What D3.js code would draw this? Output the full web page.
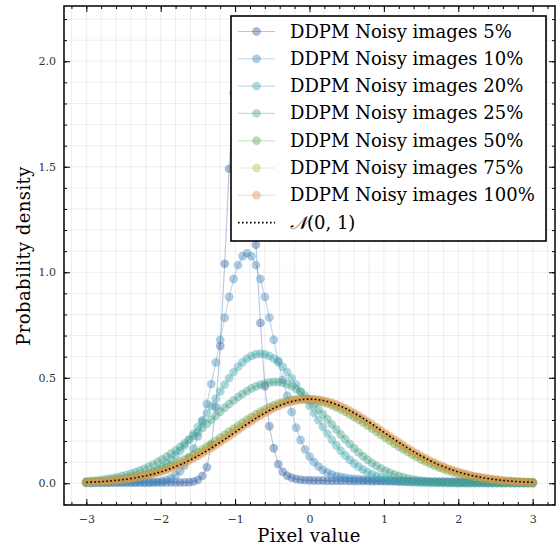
<!DOCTYPE html>
<html>
<head>
<meta charset="utf-8">
<script src="https://cdn.jsdelivr.net/npm/d3@7"></script>
<style>
body { margin: 0; background: #fff; }
svg { display: block; }
</style>
</head>
<body>
<script>
// pixel grid the densities were evaluated on (-3 .. 3, 101 points)
const pixelGrid = d3.range(101).map(i => -3 + i * 0.06);

const p5 = [
.004,.004,.004,.004,.004,.004,.004,.004,.004,.004,
.004,.004,.004,.004,.004,.004,.004,.004,.004,.004,
.004,.004,.004,.005,.008,.016,.035,.076,.180,.360,
.650,1.040,1.490,1.850,2.100,2.150,1.980,1.580,1.130,.760,
.460,.270,.166,.090,.055,.036,.026,.020,.017,.015,
.014,.013,.013,.013,.012,.012,.012,.012,.012,.011,
.011,.011,.011,.011,.010,.010,.010,.010,.010,.010,
.009,.009,.009,.009,.009,.008,.008,.008,.008,.008,
.007,.007,.007,.007,.006,.006,.006,.006,.006,.005,
.005,.005,.005,.005,.005,.005,.004,.004,.004,.004,
.004];
const p10 = [
.003,.003,.003,.003,.003,.003,.003,.003,.003,.003,
.003,.003,.003,.003,.0035,.0045,.0067,.0105,.016,.025,
.038,.057,.083,.1185,.1645,.2225,.293,.376,.470,.5725,
.679,.7845,.883,.968,1.034,1.076,1.090,1.076,1.034,.968,
.883,.785,.680,.580,.490,.415,.338,.263,.205,.160,
.127,.101,.080,.063,.051,.042,.035,.030,.026,.023,
.021,.019,.018,.017,.016,.015,.014,.013,.012,.011,
.010,.0095,.009,.0085,.008,.0075,.007,.0068,.0065,.0062,
.006,.0058,.0056,.0054,.0052,.005,.0049,.0048,.0047,.0046,
.0045,.0044,.0043,.0042,.0041,.004,.004,.004,.004,.004,
.004];
const p20 = [
.0009,.0013,.0018,.0025,.0033,.0045,.0059,.0078,.0102,.0133,
.0171,.0218,.0275,.0345,.0428,.0528,.0645,.0781,.0938,.1117,
.1319,.1544,.1792,.2063,.2354,.2664,.2989,.3324,.3667,.4010,
.4348,.4674,.4983,.5267,.5520,.5735,.5909,.6036,.6114,.6140,
.6114,.6036,.5909,.5735,.5520,.5267,.4983,.4674,.4348,.4010,
.3667,.3324,.2989,.2664,.2354,.2063,.1792,.1544,.1319,.1117,
.0938,.0781,.0645,.0528,.0428,.0345,.0275,.0218,.0171,.0133,
.0102,.0078,.0059,.0045,.0033,.0025,.0018,.0013,.0009,.0007,
.0006,.0005,.0005,.0004,.0004,.0004,.0003,.0003,.0003,.0003,
.0002,.0002,.0002,.0002,.0002,.0002,.0002,.0002,.0002,.0002,
.0002];
const p25 = [
.0087,.0105,.0125,.0150,.0178,.0211,.0249,.0292,.0341,.0396,
.0459,.0529,.0608,.0694,.0789,.0894,.1008,.1131,.1264,.1407,
.1558,.1718,.1886,.2062,.2244,.2430,.2621,.2814,.3009,.3202,
.3392,.3578,.3757,.3928,.4088,.4236,.4370,.4488,.4589,.4671,
.4734,.4776,.4797,.4796,.4763,.4697,.4600,.4474,.4321,.4145,
.3948,.3735,.3509,.3274,.3033,.2790,.2549,.2313,.2084,.1865,
.1657,.1463,.1282,.1116,.0964,.0828,.0705,.0597,.0502,.0419,
.0348,.0286,.0234,.0190,.0153,.0123,.0097,.0077,.0060,.0047,
.0036,.0030,.0027,.0025,.0023,.0021,.0020,.0019,.0018,.0017,
.0016,.0016,.0015,.0015,.0014,.0014,.0013,.0013,.0013,.0012,
.0012];
const p50 = [
.0058,.0069,.0082,.0096,.0113,.0133,.0155,.0181,.0209,.0241,
.0278,.0318,.0363,.0414,.0469,.0530,.0597,.0670,.0749,.0834,
.0926,.1024,.1128,.1239,.1355,.1478,.1605,.1737,.1873,.2013,
.2155,.2299,.2444,.2589,.2732,.2873,.3011,.3144,.3271,.3390,
.3502,.3604,.3696,.3777,.3845,.3901,.3943,.3972,.3986,.3986,
.3972,.3943,.3901,.3845,.3777,.3696,.3604,.3502,.3390,.3271,
.3144,.3011,.2873,.2732,.2589,.2444,.2299,.2155,.2013,.1873,
.1737,.1605,.1478,.1355,.1239,.1128,.1024,.0926,.0834,.0749,
.0670,.0597,.0530,.0469,.0414,.0363,.0318,.0278,.0241,.0209,
.0181,.0155,.0133,.0113,.0096,.0082,.0069,.0058,.0049,.0040,
.0034];
const p75 = [
.0049,.0058,.0069,.0082,.0096,.0113,.0133,.0155,.0181,.0209,
.0241,.0278,.0318,.0363,.0414,.0469,.0530,.0597,.0670,.0749,
.0834,.0926,.1024,.1128,.1239,.1355,.1478,.1605,.1737,.1873,
.2013,.2155,.2299,.2444,.2589,.2732,.2873,.3011,.3144,.3271,
.3390,.3502,.3604,.3696,.3777,.3845,.3901,.3943,.3972,.3986,
.3986,.3972,.3943,.3901,.3845,.3777,.3696,.3604,.3502,.3390,
.3271,.3144,.3011,.2873,.2732,.2589,.2444,.2299,.2155,.2013,
.1873,.1737,.1605,.1478,.1355,.1239,.1128,.1024,.0926,.0834,
.0749,.0670,.0597,.0530,.0469,.0414,.0363,.0318,.0278,.0241,
.0209,.0181,.0155,.0133,.0113,.0096,.0082,.0069,.0058,.0049,
.0040];
const p100 = [
.0045,.0053,.0064,.0075,.0089,.0104,.0123,.0143,.0168,.0194,
.0225,.0258,.0298,.0339,.0388,.0440,.0499,.0562,.0633,.0707,
.0791,.0878,.0974,.1074,.1183,.1295,.1416,.1540,.1670,.1804,
.1943,.2083,.2228,.2371,.2517,.2661,.2804,.2943,.3080,.3209,
.3333,.3448,.3556,.3653,.3740,.3814,.3877,.3925,.3962,.3982,
.3990,.3982,.3962,.3925,.3877,.3814,.3740,.3653,.3556,.3448,
.3333,.3209,.3080,.2943,.2804,.2661,.2517,.2371,.2228,.2083,
.1943,.1804,.1670,.1540,.1416,.1295,.1183,.1074,.0974,.0878,
.0791,.0707,.0633,.0562,.0499,.0440,.0388,.0339,.0298,.0258,
.0225,.0194,.0168,.0143,.0123,.0104,.0089,.0075,.0064,.0053,
.0045];
// reference N(0,1)
const normalRef = [
.0044,.0053,.0063,.0075,.0088,.0104,.0122,.0143,.0167,.0194,
.0224,.0258,.0297,.0339,.0387,.0440,.0498,.0562,.0632,.0707,
.0790,.0878,.0973,.1074,.1182,.1295,.1415,.1540,.1669,.1804,
.1942,.2083,.2227,.2371,.2516,.2661,.2803,.2943,.3079,.3209,
.3332,.3448,.3555,.3653,.3739,.3814,.3876,.3925,.3961,.3982,
.3989,.3982,.3961,.3925,.3876,.3814,.3739,.3653,.3555,.3448,
.3332,.3209,.3079,.2943,.2803,.2661,.2516,.2371,.2227,.2083,
.1942,.1804,.1669,.1540,.1415,.1295,.1182,.1074,.0973,.0878,
.0790,.0707,.0632,.0562,.0498,.0440,.0387,.0339,.0297,.0258,
.0224,.0194,.0167,.0143,.0122,.0104,.0088,.0075,.0063,.0053,
.0044];

const seriesNames = ['DDPM Noisy images 5%','DDPM Noisy images 10%','DDPM Noisy images 20%',
  'DDPM Noisy images 25%','DDPM Noisy images 50%','DDPM Noisy images 75%','DDPM Noisy images 100%'];
const seriesValues = [p5, p10, p20, p25, p50, p75, p100];
const seriesColors = ['#2f5fa0','#4187b9','#41a5af','#48a08c','#5ea24b','#bdb952','#e08c52'];
const xTicks = [-3,-2,-1,0,1,2,3];
const yTicks = [0,0.5,1,1.5,2];

let width = 557, height = 548;
let padL = 64, padR = 555, padT = 6, padB = 505;
let font = '"DejaVu Serif", serif';

let svg = d3.select('body').append('svg')
    .attr('width', width)
    .attr('height', height);

let x = d3.scaleLinear().domain([-3.3, 3.3]).range([padL, padR]);
let y = d3.scaleLinear().domain([-0.103, 2.262]).range([padB, padT]);

svg.append('clipPath').attr('id','plotclip')
    .append('rect').attr('x',padL).attr('y',padT).attr('width',padR-padL).attr('height',padB-padT);

//网格
let xGrid = d3.range(-16,17).map(i => i/5);
let yGrid = d3.range(-1,23).map(i => i/10);
svg.append('g').selectAll('line').data(xGrid).enter().append('line')
    .attr('x1', d => x(d)).attr('x2', d => x(d))
    .attr('y1', padT).attr('y2', padB)
    .attr('stroke', '#000').attr('stroke-opacity', 0.09).attr('stroke-width', 0.8);
svg.append('g').selectAll('line').data(yGrid).enter().append('line')
    .attr('y1', d => y(d)).attr('y2', d => y(d))
    .attr('x1', padL).attr('x2', padR)
    .attr('stroke', '#000').attr('stroke-opacity', 0.09).attr('stroke-width', 0.8);

//曲线
let plot = svg.append('g').attr('clip-path','url(#plotclip)');
seriesValues.forEach(function(vals, s) {
    let pts = vals.map((v,i) => [pixelGrid[i], v]);
    let line = d3.line().x(d => x(d[0])).y(d => y(d[1]));
    let g = plot.append('g');
    g.append('path').attr('d', line(pts))
        .attr('fill','none')
        .attr('stroke', seriesColors[s])
        .attr('stroke-opacity', 0.35)
        .attr('stroke-width', 1.1);
    g.selectAll('circle').data(pts).enter().append('circle')
        .attr('cx', d => x(d[0]))
        .attr('cy', d => y(d[1]))
        .attr('r', 4.2)
        .attr('fill', seriesColors[s])
        .attr('fill-opacity', 0.42)
        .attr('stroke', seriesColors[s])
        .attr('stroke-opacity', 0.2)
        .attr('stroke-width', 0.5);
});
let normPts = normalRef.map((v,i) => [pixelGrid[i], v]);
plot.append('path')
    .attr('d', d3.line().x(d => x(d[0])).y(d => y(d[1]))(normPts))
    .attr('fill','none')
    .attr('stroke','#000')
    .attr('stroke-width',1.6)
    .attr('stroke-dasharray','1.6,2.4');

//坐标轴 (ticks inward, mirrored)
let minorX = xGrid.filter(d => d >= -3.2 && d <= 3.2);
let minorY = yGrid;
function axisStyle(g) {
    g.select('.domain').remove();
    g.selectAll('line').attr('stroke','#000').attr('stroke-width',1);
    g.selectAll('text').attr('font-family', font).attr('font-size','11px').attr('fill','#333');
}
svg.append('g').attr('transform',`translate(0,${padB})`)
    .call(d3.axisBottom(x).tickValues(minorX).tickSize(-3).tickFormat('')).call(axisStyle);
svg.append('g').attr('transform',`translate(0,${padT})`)
    .call(d3.axisTop(x).tickValues(minorX).tickSize(-3).tickFormat('')).call(axisStyle);
svg.append('g').attr('transform',`translate(${padL},0)`)
    .call(d3.axisLeft(y).tickValues(minorY).tickSize(-3).tickFormat('')).call(axisStyle);
svg.append('g').attr('transform',`translate(${padR},0)`)
    .call(d3.axisRight(y).tickValues(minorY).tickSize(-3).tickFormat('')).call(axisStyle);

svg.append('g').attr('transform',`translate(0,${padB})`)
    .call(d3.axisBottom(x).tickValues(xTicks).tickSize(-6).tickPadding(10).tickFormat(d3.format('d'))).call(axisStyle);
svg.append('g').attr('transform',`translate(0,${padT})`)
    .call(d3.axisTop(x).tickValues(xTicks).tickSize(-6).tickFormat('')).call(axisStyle);
svg.append('g').attr('transform',`translate(${padL},0)`)
    .call(d3.axisLeft(y).tickValues(yTicks).tickSize(-6).tickPadding(8).tickFormat(d3.format('.1f'))).call(axisStyle);
svg.append('g').attr('transform',`translate(${padR},0)`)
    .call(d3.axisRight(y).tickValues(yTicks).tickSize(-6).tickFormat('')).call(axisStyle);

svg.append('rect')
    .attr('x',padL).attr('y',padT).attr('width',padR-padL).attr('height',padB-padT)
    .attr('fill','none').attr('stroke','#111').attr('stroke-width',1.6);

//轴标题
svg.append('text')
    .attr('x', 309).attr('y', 542)
    .attr('text-anchor','middle')
    .attr('font-family', font).attr('font-size','18px')
    .attr('letter-spacing','0.4px')
    .text('Pixel value');
svg.append('text')
    .attr('transform','translate(30,256) rotate(-90)')
    .attr('text-anchor','middle')
    .attr('font-family', font).attr('font-size','18px')
    .attr('letter-spacing','0.4px')
    .text('Probability density');

//图例
let lg = svg.append('g');
lg.append('rect')
    .attr('x',231).attr('y',16).attr('width',315).attr('height',225)
    .attr('fill','#fff').attr('stroke','#000').attr('stroke-width',1.6);
let rowY = i => 31.5 + i * 27.3;
seriesNames.forEach(function(name, i) {
    lg.append('line')
        .attr('x1',238).attr('x2',275).attr('y1',rowY(i)).attr('y2',rowY(i))
        .attr('stroke',seriesColors[i]).attr('stroke-opacity',0.35).attr('stroke-width',1.1);
    lg.append('circle')
        .attr('cx',256.5).attr('cy',rowY(i)).attr('r',4.2)
        .attr('fill',seriesColors[i]).attr('fill-opacity',0.42)
        .attr('stroke',seriesColors[i]).attr('stroke-opacity',0.2).attr('stroke-width',0.5);
    lg.append('text')
        .attr('x',290).attr('y',rowY(i)+6)
        .attr('font-family', font).attr('font-size','18px')
        .text(name);
});
lg.append('line')
    .attr('x1',238).attr('x2',275).attr('y1',rowY(7)).attr('y2',rowY(7))
    .attr('stroke','#000').attr('stroke-width',1.6).attr('stroke-dasharray','1.6,2.4');
let nt = lg.append('text')
    .attr('x',290).attr('y',rowY(7)+6)
    .attr('font-family', font).attr('font-size','18px');
nt.append('tspan').attr('font-family','"DejaVu Sans", "Noto Sans", serif').attr('font-style','italic').text('𝒩');
nt.append('tspan').text('(0, 1)');
</script>
</body>
</html>
